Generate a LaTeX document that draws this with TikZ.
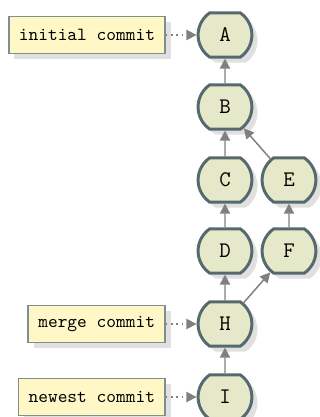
\documentclass[tikz,border=0pt]{standalone}
\usetikzlibrary{shapes.misc,shadows,arrows.meta}
\definecolor{commitfill}{HTML}{E6E8CA}
\definecolor{commitline}{HTML}{56696E}
\definecolor{notefill}{HTML}{FFF8C6}
\definecolor{noteline}{HTML}{7F8F8F}
\definecolor{edgegray}{HTML}{808080}
\tikzset{
  commit/.style={rounded rectangle, rounded rectangle arc length=110,
    draw=commitline, line width=1.6pt, fill=commitfill,
    minimum width=33.5pt, minimum height=23.8pt, font=\ttfamily\large,
    drop shadow={shadow xshift=3pt, shadow yshift=-3pt, fill=black!12, opacity=1}},
  note/.style={rectangle, draw=noteline, line width=0.9pt, fill=notefill,
    minimum height=20pt, inner xsep=5.5pt, font=\ttfamily, anchor=east,
    drop shadow={shadow xshift=3pt, shadow yshift=-3pt, fill=black!12, opacity=1}},
  parent/.style={draw=edgegray, line width=0.8pt, -{Triangle[length=5.5pt,width=5.5pt]}},
  pointer/.style={draw=edgegray, line width=0.8pt, dotted, -{Triangle[length=5.5pt,width=5.5pt]}}
}
\begin{document}
\begin{tikzpicture}[x=0.54pt,y=-0.54pt]
  \useasboundingbox (0,0) rectangle (320,417);
  \draw
    (225,35) node[commit] (A){A}
    (225,107) node[commit] (B){B}
    (225,180) node[commit] (C){C}
    (225,251) node[commit] (D){D}
    (225,324) node[commit] (H){H}
    (225,397) node[commit] (I){I}
    (289,180) node[commit] (E){E}
    (289,251) node[commit] (F){F};
  \draw
    (166,35) node[note] (initial){initial commit}
    (166,324) node[note] (merge){merge commit}
    (166,397) node[note] (newest){newest commit};
  \begin{scope}[parent]
    \draw (B) to (A);
    \draw (C) to (B);
    \draw (D) to (C);
    \draw (H) to (D);
    \draw (I) to (H);
    \draw (E) to (B);
    \draw (F) to (E);
    \draw (H) to (F);
  \end{scope}
  \begin{scope}[pointer]
    \draw (initial) to (A);
    \draw (merge) to (H);
    \draw (newest) to (I);
  \end{scope}
\end{tikzpicture}
\end{document}
